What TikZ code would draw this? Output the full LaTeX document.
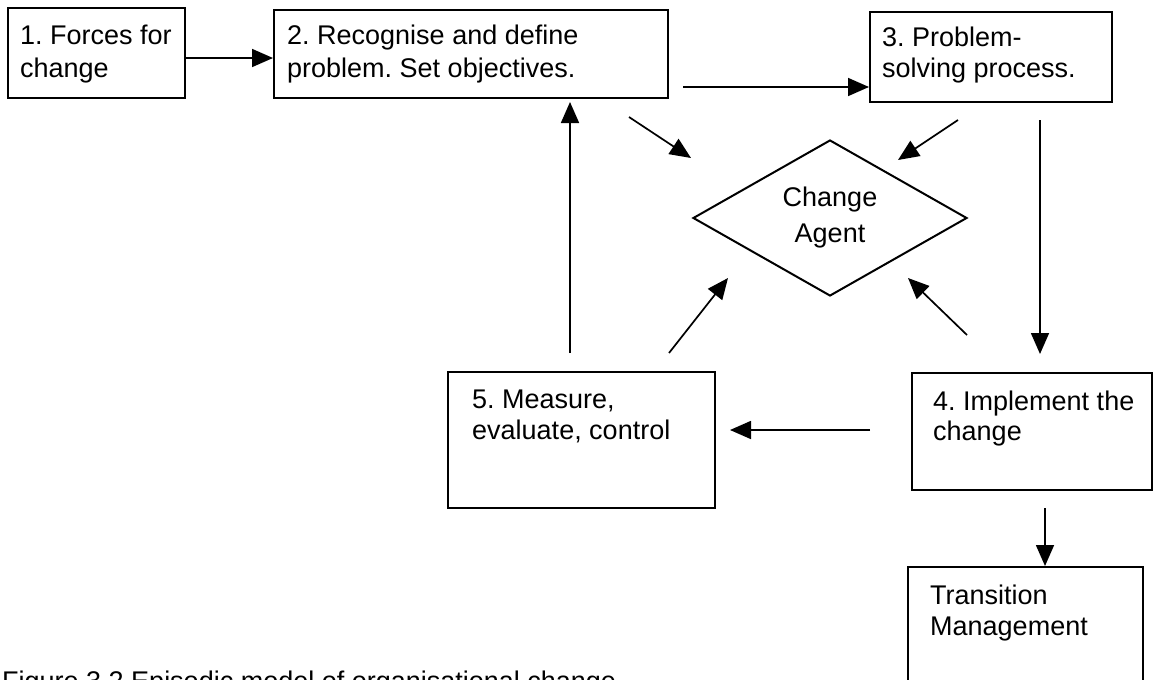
\documentclass[tikz,border=0pt]{standalone}
\usepackage{fontspec}
\setmainfont{Liberation Sans}
\usetikzlibrary{shapes.geometric,arrows.meta}
\frenchspacing
\begin{document}
\begin{tikzpicture}[x=1pt,y=-1pt,
  box/.style={draw, line width=2pt, inner sep=0pt},
  txt/.style={anchor=base west, inner sep=0pt, font=\fontsize{27}{32}\selectfont},
  arr/.style={line width=1.7pt, -{Triangle[length=21pt,width=18pt]}}]
\useasboundingbox (0,0) rectangle (1157,680);
\clip (0,0) rectangle (1157,680);
% boxes
\node[box, minimum width=177pt, minimum height=90pt] (b1) at (96.5,53) {};
\node[box, minimum width=394pt, minimum height=88pt] (b2) at (471,54) {};
\node[box, minimum width=242pt, minimum height=90pt] (b3) at (991,57) {};
\node[box, minimum width=267pt, minimum height=136pt] (b5) at (581.5,440) {};
\node[box, minimum width=240pt, minimum height=117pt] (b4) at (1032,431.5) {};
\node[box, minimum width=235pt, minimum height=140pt] (tm) at (1025.5,637) {};
% texts
\node[txt] (t1a) at (20,44) {1. Forces for};
\node[txt] (t1b) at (20,77) {change};
\node[txt] (t2a) at (287,44) {2. Recognise and define};
\node[txt] (t2b) at (287,77) {problem. Set objectives.};
\node[txt] (t3a) at (882,46) {3. Problem-};
\node[txt] (t3b) at (882,77) {solving process.};
\node[txt] (t5a) at (472,408) {5. Measure,};
\node[txt] (t5b) at (472,439) {evaluate, control};
\node[txt] (t4a) at (933,410) {4. Implement the};
\node[txt] (t4b) at (933,440) {change};
\node[txt] (tma) at (930,604) {Transition};
\node[txt] (tmb) at (930,635) {Management};
\node[txt] (cap) at (2,690) {Figure 3.2 Episodic model of organisational change};
% diamond
\node[draw, diamond, line width=2pt, minimum width=274pt, minimum height=156pt,
      inner sep=0pt, align=center, font=\fontsize{27}{36}\selectfont] (ca) at (830,218) {Change\\Agent};
% connector ends
\coordinate (s12) at (b1.east |- 0,58);
\coordinate (e12) at (b2.west |- 0,58);
\coordinate (s23) at (683,87);
\coordinate (e23) at (b3.west |- 0,87);
\coordinate (s2d) at (629,117);
\coordinate (e2d) at (691,158);
\coordinate (s3d) at (958,120);
\coordinate (e3d) at (898,160);
\coordinate (s34) at (1040,120);
\coordinate (e34) at (1040,354);
\coordinate (s45) at (870,430);
\coordinate (e45) at (730,430);
\coordinate (s52) at (570,353);
\coordinate (e52) at (570,102);
\coordinate (s5d) at (669,353);
\coordinate (e5d) at (728,278);
\coordinate (s4d) at (967,335);
\coordinate (e4d) at (908,278);
\coordinate (s4t) at (1045,508);
\coordinate (e4t) at (tm.north -| 1045,0);
% arrows
\draw[arr] (s12) -- (e12);
\draw[arr] (s23) -- (e23);
\draw[arr] (s2d) -- (e2d);
\draw[arr] (s3d) -- (e3d);
\draw[arr] (s34) -- (e34);
\draw[arr] (s45) -- (e45);
\draw[arr] (s52) -- (e52);
\draw[arr] (s5d) -- (e5d);
\draw[arr] (s4d) -- (e4d);
\draw[arr] (s4t) -- (e4t);
\end{tikzpicture}
\end{document}
